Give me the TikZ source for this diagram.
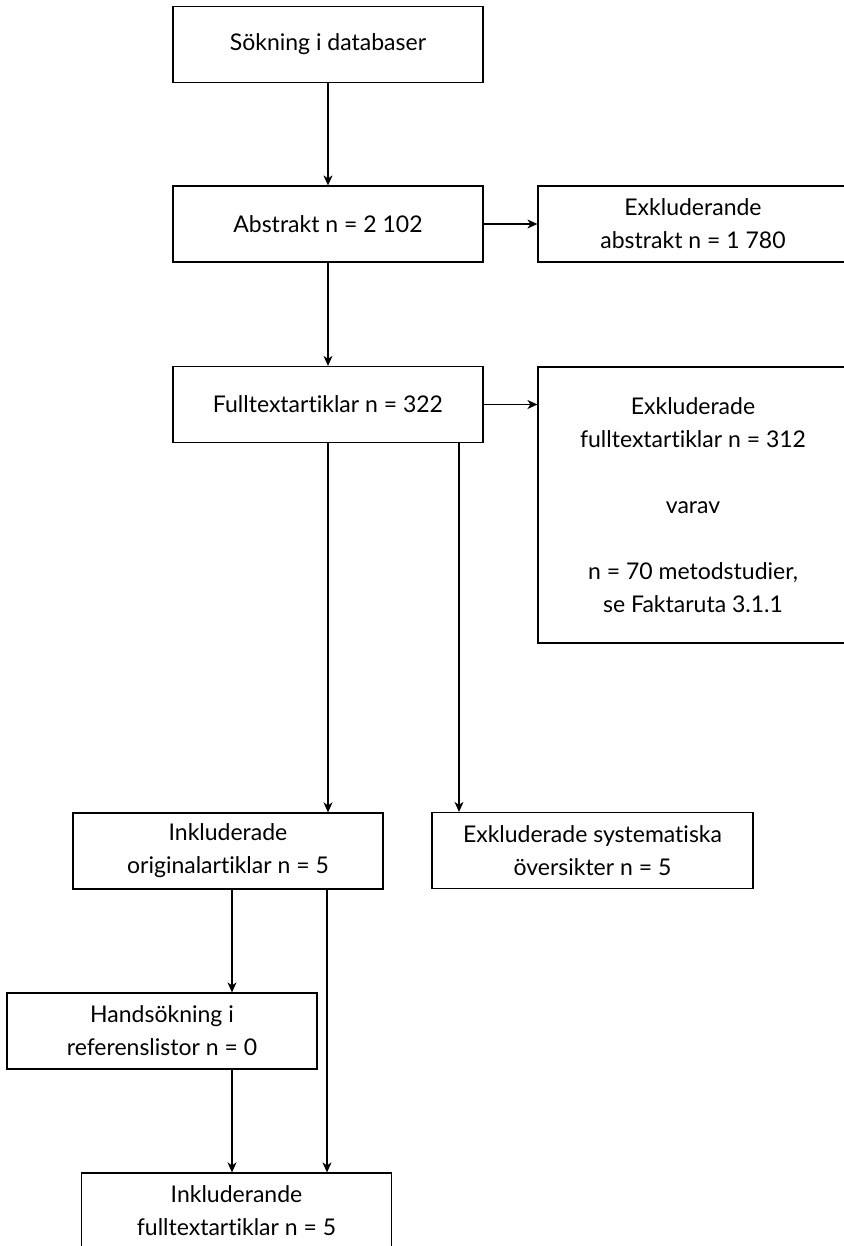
\documentclass[tikz,border=0pt]{standalone}
\usepackage{fontspec}
\setmainfont{Lato}[Ligatures={NoCommon,NoRequired,NoContextual}]
\usepackage{tikz}
\usetikzlibrary{arrows.meta}
\tikzset{%
  block/.style    = {draw, line width = 1.2pt, rectangle, align = center,
    minimum height = 76pt, minimum width = 310pt, inner sep = 0pt,
    font = \fontsize{23}{33}\selectfont},
  tall/.style     = {minimum height = 276pt} % box with the breakdown
}

\begin{document}
\begin{tikzpicture}[x=1pt, y=-1pt, line width=1.2pt,
  >={Stealth[length=10pt, width=9pt, inset=3pt]}]
\useasboundingbox (0,0) rectangle (843,1246);
\draw
    node at(328,44.5)[block,name=sok]{Sökning i databaser}
    node at(328,224)[block,name=abs]{Abstrakt n = 2 102}
    node at(693,224)[block,name=exabs]{Exkluderande\\abstrakt n = 1 780}

    node at(328,404.5)[block,name=full]{Fulltextartiklar n = 322}
    node at(693,505)[block,tall,name=exfull]{Exkluderade\\fulltextartiklar n = 312\\[33pt]
      varav\\[33pt]n = 70 metodstudier,\\se Faktaruta 3.1.1}

    node at(228,851)[block,name=inkorig]{Inkluderade\\originalartiklar n = 5}
    node at(592.5,850.5)[block,minimum width=321pt,name=exsys]{Exkluderade systematiska\\översikter n = 5}

    node at(162,1031)[block,name=hand]{Handsökning i\\referenslistor n = 0}
    node at(236.5,1211)[block,name=inkfull]{Inkluderande\\fulltextartiklar n = 5}
;

    \coordinate (fullR) at ([xshift=131pt]full.south);
    \coordinate (origL) at ([xshift=4pt]inkorig.south);
    \coordinate (origR) at ([xshift=99pt]inkorig.south);

    \draw[->](sok) -- (abs);
    \draw[->](abs) -- (exabs);
    \draw[->](abs) -- (full);
    \draw[->](full.east) -- (exfull.west |- full.east);

    \draw[->](full.south) -- (full.south |- inkorig.north);
    \draw[->](fullR) -- (fullR |- exsys.north);

    \draw[->](origL) -- (origL |- hand.north);
    \draw[->](origR) -- (origR |- inkfull.north);
    \draw[->](origL |- hand.south) -- (origL |- inkfull.north);
\end{tikzpicture}
\end{document}
